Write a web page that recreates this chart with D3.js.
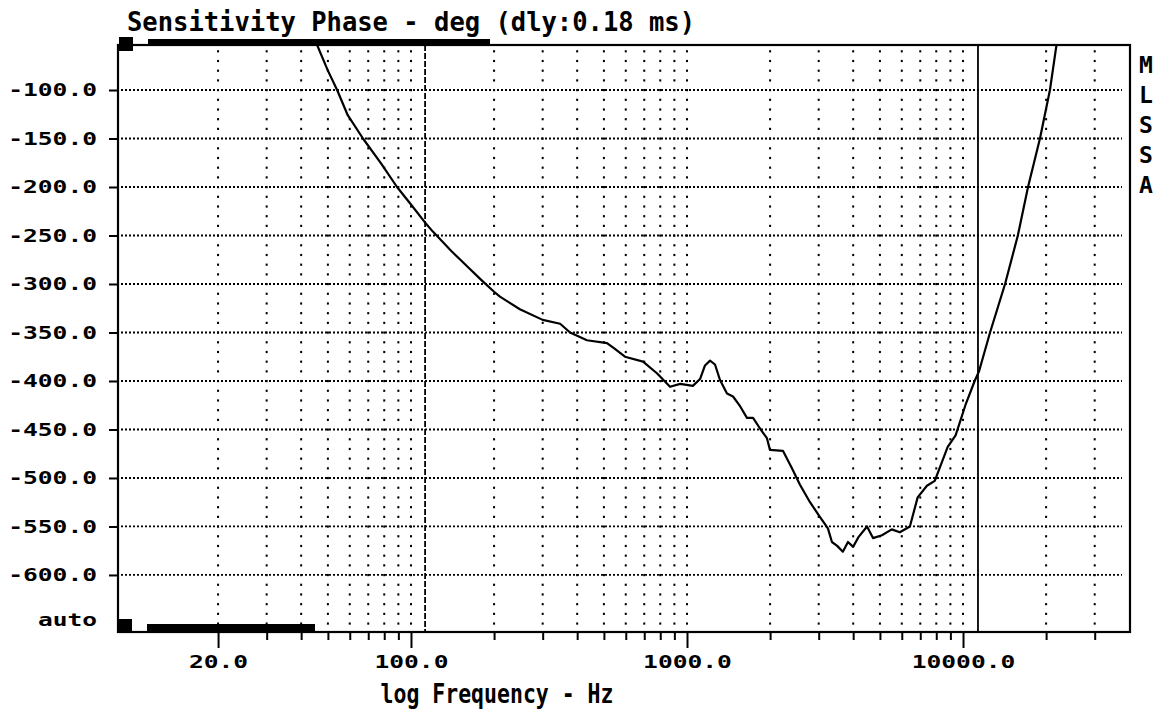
<!DOCTYPE html>
<html>
<head>
<meta charset="utf-8">
<script src="https://cdn.jsdelivr.net/npm/d3@7"></script>
<style>
  body { margin: 0; background: #fff; }
  svg { display: block; }
</style>
</head>
<body>
<div id="chart"></div>
<script>
// phase curve (Hz, degrees)
var freqs = [42, 45.6, 50, 54, 59, 67, 78, 89, 100, 112, 120, 140, 160, 180, 200, 210,
  248, 300, 347, 377, 434, 513, 548, 596, 693, 778, 868, 945, 1050, 1115, 1162, 1212,
  1263, 1317, 1396, 1468, 1557, 1649, 1735, 1839, 1948, 1998, 2226, 2400, 2566, 2790,
  3030, 3240, 3350, 3500, 3670, 3830, 4000, 4180, 4490, 4720, 5085, 5520, 5900, 6420,
  6850, 7400, 7900, 8800, 9400, 10200, 11020, 11430, 12530, 14200, 15800, 17200, 19000,
  20650, 21900, 22500];
var phase = [-30, -53, -80, -100, -126, -150, -176, -200, -218, -236, -246, -266, -282, -296, -308, -313,
  -326, -337, -341, -350, -358, -361, -367, -375, -380, -392, -406, -403, -405, -398, -384, -379,
  -383, -399, -413, -416, -426, -438, -438, -449, -459, -471, -472, -490, -507, -525,
  -540, -552, -566, -570, -576, -566, -571, -561, -550, -562, -559, -553, -556, -550,
  -520, -508, -503, -468, -456, -425, -400, -390, -350, -300, -250, -200, -150,
  -100, -50, -25];

var yTicks = [-100, -150, -200, -250, -300, -350, -400, -450, -500, -550, -600];
var gridFreqs = [20, 30, 40, 50, 60, 70, 80, 90, 100, 200, 300, 400, 500, 600, 700, 800, 900,
  1000, 2000, 3000, 4000, 5000, 6000, 7000, 8000, 9000, 10000, 20000, 30000];
var labelFreqs = [20, 100, 1000, 10000];
var cursorDashed = 112.5;
var cursorSolid = 11330;
var sideLetters = ["M", "L", "S", "S", "A"];

var svgWidth = 1161;
var svgHeight = 714;
var plot = { left: 118, right: 1130, top: 45, bottom: 632 };

var svg = d3.select("#chart")
  .append("svg")
  .attr("width", svgWidth)
  .attr("height", svgHeight);

var xScale = d3.scaleLog()
  .domain([8.68, 40270])
  .range([plot.left, plot.right]);

var yScale = d3.scaleLinear()
  .domain([-53.6, -658.8])
  .range([plot.top, plot.bottom]);

var mono = "'DejaVu Sans Mono', monospace";

svg.append("clipPath").attr("id", "clip")
  .append("rect")
  .attr("x", plot.left).attr("y", plot.top)
  .attr("width", plot.right - plot.left).attr("height", plot.bottom - plot.top);

// horizontal dotted grid
svg.append("g")
  .selectAll("line")
  .data(yTicks)
  .enter()
  .append("line")
  .attr("x1", plot.left + 3)
  .attr("x2", plot.right - 8)
  .attr("y1", d => yScale(d))
  .attr("y2", d => yScale(d))
  .attr("stroke", "#000")
  .attr("stroke-width", 1.8)
  .attr("stroke-dasharray", "2,2");

// vertical dotted columns, one dot every 10 deg
var dotVals = d3.range(-60, -651, -10);
var dots = [];
gridFreqs.forEach(function(f) {
  dotVals.forEach(function(v) { dots.push([f, v]); });
});
svg.append("g")
  .selectAll("rect")
  .data(dots)
  .enter()
  .append("rect")
  .attr("x", d => xScale(d[0]) - 1)
  .attr("y", d => yScale(d[1]) - 1)
  .attr("width", 2)
  .attr("height", 2.2)
  .attr("fill", "#000");

// cursors
svg.append("line")
  .attr("x1", xScale(cursorDashed)).attr("x2", xScale(cursorDashed))
  .attr("y1", plot.top).attr("y2", plot.bottom)
  .attr("stroke", "#000").attr("stroke-width", 1.8)
  .attr("stroke-dasharray", "6,2");
svg.append("line")
  .attr("x1", xScale(cursorSolid)).attr("x2", xScale(cursorSolid))
  .attr("y1", plot.top).attr("y2", plot.bottom)
  .attr("stroke", "#000").attr("stroke-width", 1.8);

// the curve
var line = d3.line()
  .x((d, i) => xScale(freqs[i]))
  .y(d => yScale(d));

svg.append("path")
  .datum(phase)
  .attr("clip-path", "url(#clip)")
  .attr("d", line)
  .attr("fill", "none")
  .attr("stroke", "#000")
  .attr("stroke-width", 2.2)
  .attr("stroke-linejoin", "round");

// frame
svg.append("rect")
  .attr("x", plot.left).attr("y", plot.top)
  .attr("width", plot.right - plot.left).attr("height", plot.bottom - plot.top)
  .attr("fill", "none").attr("stroke", "#000").attr("stroke-width", 2.2);

// range bars top and bottom
svg.append("rect").attr("x", 119).attr("y", 37).attr("width", 14).attr("height", 14).attr("fill", "#000");
svg.append("rect").attr("x", 148).attr("y", 39).attr("width", 342).attr("height", 6).attr("fill", "#000");
svg.append("rect").attr("x", 119).attr("y", 619).attr("width", 13).attr("height", 13).attr("fill", "#000");
svg.append("rect").attr("x", 147).attr("y", 624).attr("width", 168).attr("height", 8).attr("fill", "#000");

// y axis
var leftAxis = d3.axisLeft(yScale)
  .tickValues(yTicks)
  .tickSize(9)
  .tickPadding(12)
  .tickFormat(d => d.toFixed(1));

var yAxisG = svg.append("g")
  .attr("transform", `translate(${plot.left}, 0)`)
  .call(leftAxis);
yAxisG.select(".domain").remove();
yAxisG.selectAll(".tick line").attr("stroke-width", 2);
yAxisG.selectAll(".tick text")
  .attr("font-family", mono)
  .attr("font-weight", "bold")
  .attr("font-size", 18.5)
  .attr("fill", "#000")
  .attr("textLength", d => d.toFixed(1).length * 14.8)
  .attr("lengthAdjust", "spacingAndGlyphs");

svg.append("text")
  .attr("x", 97).attr("y", 620)
  .attr("dy", "0.32em")
  .attr("text-anchor", "end")
  .attr("font-family", mono)
  .attr("font-weight", "bold")
  .attr("font-size", 18.5)
  .attr("textLength", 59)
  .attr("lengthAdjust", "spacingAndGlyphs")
  .text("auto");

// x axis
var bottomAxis = d3.axisBottom(xScale)
  .tickValues(gridFreqs)
  .tickSize(8)
  .tickFormat(d => labelFreqs.indexOf(d) >= 0 ? d.toFixed(1) : "");

var xAxisG = svg.append("g")
  .attr("transform", `translate(0, ${plot.bottom})`)
  .call(bottomAxis);
xAxisG.select(".domain").remove();
xAxisG.selectAll(".tick line")
  .attr("stroke-width", 2)
  .attr("y2", d => labelFreqs.indexOf(d) >= 0 ? 16 : 8);
xAxisG.selectAll(".tick text")
  .attr("y", 36)
  .attr("dy", 0)
  .attr("font-family", mono)
  .attr("font-weight", "bold")
  .attr("font-size", 18.5)
  .attr("fill", "#000")
  .attr("textLength", d => labelFreqs.indexOf(d) >= 0 ? d.toFixed(1).length * 14.8 : 0)
  .attr("lengthAdjust", "spacingAndGlyphs");

// titles
svg.append("text")
  .attr("x", 127).attr("y", 31)
  .attr("font-family", mono)
  .attr("font-weight", "bold")
  .attr("font-size", 27)
  .attr("textLength", 568)
  .attr("lengthAdjust", "spacingAndGlyphs")
  .text("Sensitivity Phase - deg (dly:0.18 ms)");

svg.append("text")
  .attr("x", 497).attr("y", 703)
  .attr("text-anchor", "middle")
  .attr("font-family", mono)
  .attr("font-weight", "bold")
  .attr("font-size", 26)
  .attr("textLength", 233)
  .attr("lengthAdjust", "spacingAndGlyphs")
  .text("log Frequency - Hz");

svg.append("g")
  .selectAll("text")
  .data(sideLetters)
  .enter()
  .append("text")
  .attr("x", 1146)
  .attr("y", (d, i) => 65 + i * 30)
  .attr("dy", "0.35em")
  .attr("text-anchor", "middle")
  .attr("font-family", mono)
  .attr("font-weight", "bold")
  .attr("font-size", 23)
  .text(d => d);
</script>
</body>
</html>
